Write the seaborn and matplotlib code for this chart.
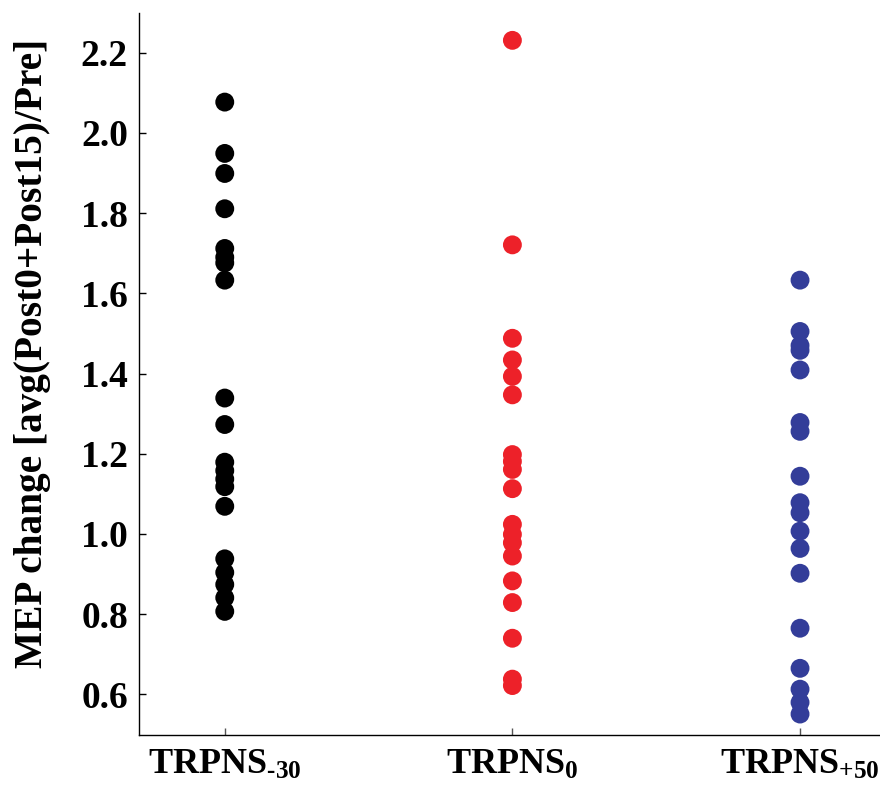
import numpy as np
import pandas as pd
import matplotlib
matplotlib.use('Agg')
import matplotlib.pyplot as plt
import seaborn as sns

# values
trpns_m30 = [2.077, 1.949, 1.899, 1.811, 1.712, 1.690, 1.676, 1.633,
             1.339, 1.273, 1.179, 1.158, 1.137, 1.118, 1.069,
             0.938, 0.904, 0.874, 0.841, 0.807]
trpns_0 = [2.231, 1.721, 1.488, 1.434, 1.393, 1.347,
           1.198, 1.181, 1.161, 1.113, 1.024, 0.999, 0.978, 0.945,
           0.883, 0.829, 0.740, 0.638, 0.622]
trpns_p50 = [1.633, 1.505, 1.470, 1.458, 1.409, 1.278, 1.256, 1.144,
             1.078, 1.053, 1.007, 0.964, 0.902, 0.765, 0.665, 0.613,
             0.580, 0.551]

groups = ['TRPNS-30', 'TRPNS0', 'TRPNS+50']
tick_labels = [r'$\mathbf{TRPNS}_{\text{-30}}$', r'$\mathbf{TRPNS}_{\text{0}}$', r'$\mathbf{TRPNS}_{\text{+50}}$']
palette = {'TRPNS-30': '#000000', 'TRPNS0': '#ED2129', 'TRPNS+50': '#333D99'}

df = pd.DataFrame({
    'group': ['TRPNS-30'] * len(trpns_m30) + ['TRPNS0'] * len(trpns_0) + ['TRPNS+50'] * len(trpns_p50),
    'value': trpns_m30 + trpns_0 + trpns_p50,
})

sns.set_style('white')
plt.rcParams['font.family'] = ['Liberation Serif', 'DejaVu Serif']
plt.rcParams['font.weight'] = 'bold'
plt.rcParams['text.color'] = 'black'
plt.rcParams['xtick.color'] = 'black'
plt.rcParams['ytick.color'] = 'black'
plt.rcParams['axes.labelcolor'] = 'black'
plt.rcParams['mathtext.fontset'] = 'custom'
plt.rcParams['mathtext.rm'] = 'Liberation Serif:bold'
plt.rcParams['mathtext.bf'] = 'Liberation Serif:bold'
plt.rcParams['mathtext.it'] = 'Liberation Serif:bold'

fig = plt.figure(figsize=(8.8, 7.92), dpi=100)
ax = fig.add_axes([0.158, 0.0716, 0.842, 0.9124])

sns.stripplot(data=df, x='group', y='value', hue='group', palette=palette,
              order=groups, jitter=False, size=13.6, linewidth=0, legend=False, ax=ax)

ax.set_xlim(-0.298, 2.278)
ax.set_ylim(0.498, 2.3)
ax.set_yticks([0.6, 0.8, 1.0, 1.2, 1.4, 1.6, 1.8, 2.0, 2.2])
ax.set_yticklabels([f'{v:.1f}' for v in ax.get_yticks()], fontsize=27, fontweight='bold')
ax.set_xticks([0, 1, 2])
ax.set_xticklabels(tick_labels, fontsize=26)
ax.set_xlabel('')
ax.set_ylabel('MEP change [avg(Post0+Post15)/Pre]', fontsize=28.4, fontweight='bold')
ax.yaxis.set_label_coords(-0.119, 0.529)

for s in ['top', 'right']:
    ax.spines[s].set_visible(False)
for s in ['left', 'bottom']:
    ax.spines[s].set_color('black')
    ax.spines[s].set_linewidth(1.0)
ax.tick_params(axis='y', direction='in', length=5.3, width=1, colors='black', pad=8, left=True)
ax.tick_params(axis='x', direction='in', length=5.3, width=1, color='#555555', labelcolor='black', pad=10, bottom=True)

fig.savefig('out.png', dpi=100)
